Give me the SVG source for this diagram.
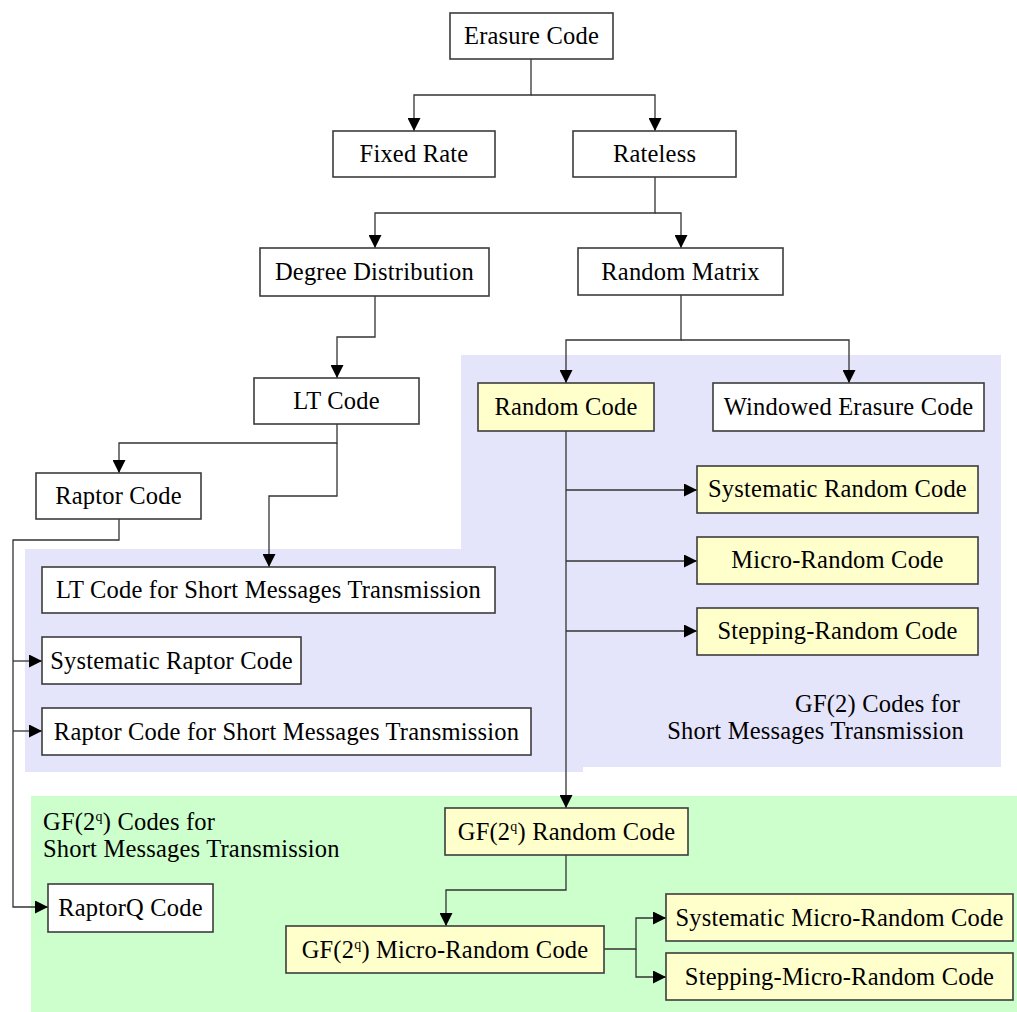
<svg xmlns="http://www.w3.org/2000/svg" width="1017" height="1012" viewBox="0 0 1017 1012">
<style>
.box{fill:#ffffff;stroke:#3c3c3c;stroke-width:1.6}
.yel{fill:#ffffcc;stroke:#3c3c3c;stroke-width:1.6}
.t{font-family:"Liberation Serif","Times New Roman",serif;font-size:24.5px;letter-spacing:0.2px;fill:#000;text-anchor:middle}
.lbl{font-family:"Liberation Serif","Times New Roman",serif;font-size:24.5px;letter-spacing:0.2px;fill:#000}
.c{fill:none;stroke:#333333;stroke-width:1.3}
</style>
<defs>
<marker id="ah" viewBox="0 0 13 13" refX="13" refY="6.5" markerWidth="13" markerHeight="13" markerUnits="userSpaceOnUse" orient="auto">
<path d="M0,0 L13,6.5 L0,13 z" fill="#000"/>
</marker>
</defs>
<rect width="1017" height="1012" fill="#ffffff"/>
<g id="regions">
<path d="M461,355 H1001 V767 H583 V772 H25 V549 H461 Z" fill="#e4e4fb"/>
<rect x="31" y="796" width="986" height="216" fill="#ccffcc"/>
<text class="lbl" x="960" y="712" text-anchor="end">GF(2) Codes for</text>
<text class="lbl" x="964" y="739" text-anchor="end">Short Messages Transmission</text>
<text class="lbl" x="43" y="830">GF(2<tspan font-size="14" dy="-9">q</tspan><tspan dy="9">) Codes for</tspan></text>
<text class="lbl" x="43" y="857">Short Messages Transmission</text>
</g>
<g id="connectors">
<path class="c" d="M531,59 V95 H414 V131" marker-end="url(#ah)"/>
<path class="c" d="M531,95 H655 V131" marker-end="url(#ah)"/>
<path class="c" d="M655,177 V213 H375 V248" marker-end="url(#ah)"/>
<path class="c" d="M655,213 H681 V248" marker-end="url(#ah)"/>
<path class="c" d="M375,296 V337 H337 V378" marker-end="url(#ah)"/>
<path class="c" d="M681,295 V340 H566 V383" marker-end="url(#ah)"/>
<path class="c" d="M681,340 H849 V383" marker-end="url(#ah)"/>
<path class="c" d="M337,424 V443 H119 V473" marker-end="url(#ah)"/>
<path class="c" d="M337,443 V496 H269 V567" marker-end="url(#ah)"/>
<path class="c" d="M119,519 V540 H13 V907 H48" marker-end="url(#ah)"/>
<path class="c" d="M13,661 H42" marker-end="url(#ah)"/>
<path class="c" d="M13,731 H42" marker-end="url(#ah)"/>
<path class="c" d="M566,431 V808" marker-end="url(#ah)"/>
<path class="c" d="M566,490 H697" marker-end="url(#ah)"/>
<path class="c" d="M566,561 H697" marker-end="url(#ah)"/>
<path class="c" d="M566,631 H697" marker-end="url(#ah)"/>
<path class="c" d="M566,855 V890 H446 V926" marker-end="url(#ah)"/>
<path class="c" d="M604,949 H636 V918 H666" marker-end="url(#ah)"/>
<path class="c" d="M636,949 V977 H666" marker-end="url(#ah)"/>
</g>
<g id="n-erasure"><rect class="box" x="450" y="13" width="163" height="46"/><text class="t" x="531.5" y="44">Erasure Code</text></g>
<g id="n-fixed"><rect class="box" x="333" y="131" width="162" height="46"/><text class="t" x="414" y="162">Fixed Rate</text></g>
<g id="n-rateless"><rect class="box" x="573" y="131" width="163" height="46"/><text class="t" x="654.5" y="162">Rateless</text></g>
<g id="n-degree"><rect class="box" x="260" y="248" width="229" height="48"/><text class="t" x="374.5" y="280">Degree Distribution</text></g>
<g id="n-matrix"><rect class="box" x="578" y="248" width="205" height="47"/><text class="t" x="680.5" y="280">Random Matrix</text></g>
<g id="n-lt"><rect class="box" x="254" y="378" width="165" height="46"/><text class="t" x="336.5" y="409">LT Code</text></g>
<g id="n-random"><rect class="yel" x="478" y="383" width="176" height="48"/><text class="t" x="566" y="415">Random Code</text></g>
<g id="n-windowed"><rect class="box" x="713" y="383" width="271" height="48"/><text class="t" x="848.5" y="415">Windowed Erasure Code</text></g>
<g id="n-raptor"><rect class="box" x="36" y="473" width="165" height="46"/><text class="t" x="118.5" y="504">Raptor Code</text></g>
<g id="n-sysrandom"><rect class="yel" x="697" y="466" width="281" height="47"/><text class="t" x="837.5" y="497">Systematic Random Code</text></g>
<g id="n-microrandom"><rect class="yel" x="697" y="537" width="281" height="47"/><text class="t" x="837.5" y="568">Micro-Random Code</text></g>
<g id="n-steprandom"><rect class="yel" x="697" y="608" width="281" height="47"/><text class="t" x="837.5" y="639">Stepping-Random Code</text></g>
<g id="n-ltshort"><rect class="box" x="42" y="567" width="453" height="46"/><text class="t" x="268.5" y="598">LT Code for Short Messages Transmission</text></g>
<g id="n-sysraptor"><rect class="box" x="42" y="637" width="259" height="47"/><text class="t" x="171.5" y="669">Systematic Raptor Code</text></g>
<g id="n-raptorshort"><rect class="box" x="42" y="708" width="489" height="47"/><text class="t" x="286.5" y="740">Raptor Code for Short Messages Transmission</text></g>
<g id="n-gfrandom"><rect class="yel" x="445" y="808" width="243" height="47"/><text class="t" x="566.5" y="840">GF(2<tspan font-size="14" dy="-9">q</tspan><tspan dy="9">) Random Code</tspan></text></g>
<g id="n-raptorq"><rect class="box" x="48" y="884" width="165" height="48"/><text class="t" x="130.5" y="916">RaptorQ Code</text></g>
<g id="n-gfmicro"><rect class="yel" x="286" y="926" width="318" height="47"/><text class="t" x="445" y="958">GF(2<tspan font-size="14" dy="-9">q</tspan><tspan dy="9">) Micro-Random Code</tspan></text></g>
<g id="n-sysmicro"><rect class="yel" x="666" y="894" width="347" height="47"/><text class="t" x="839.5" y="926">Systematic Micro-Random Code</text></g>
<g id="n-stepmicro"><rect class="yel" x="666" y="953" width="347" height="47"/><text class="t" x="839.5" y="985">Stepping-Micro-Random Code</text></g>
</svg>
